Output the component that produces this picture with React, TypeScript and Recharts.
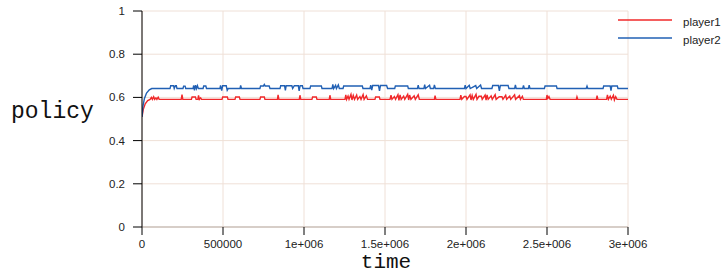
import { LineChart, Line, XAxis, YAxis, CartesianGrid, Legend } from 'recharts';

// [time, policy] samples
const player1Points: [number, number][] = [
  [0, 0.51], [8000, 0.545], [20000, 0.57], [35000, 0.585], [50000, 0.591],
  [58000, 0.6], [64000, 0.591], [72000, 0.603], [78000, 0.591], [86000, 0.598], [92000, 0.591], [100000, 0.601], [106000, 0.591],
  [242000, 0.591], [247000, 0.613], [252000, 0.591],
  [305000, 0.591], [309000, 0.602], [330000, 0.602], [334000, 0.591], [345000, 0.591], [349000, 0.609], [354000, 0.591], [362000, 0.598], [368000, 0.591],
  [494000, 0.591], [498000, 0.602], [527000, 0.602], [531000, 0.591],
  [574000, 0.591], [578000, 0.602], [601000, 0.602], [605000, 0.591],
  [728000, 0.591], [732000, 0.602], [755000, 0.602], [759000, 0.591],
  [836000, 0.591], [840000, 0.612], [845000, 0.591],
  [971000, 0.591], [975000, 0.61], [980000, 0.591],
  [1049000, 0.591], [1053000, 0.602], [1076000, 0.602], [1080000, 0.591],
  [1156000, 0.591], [1160000, 0.61], [1165000, 0.591],
  [1253000, 0.591], [1258000, 0.612], [1263000, 0.591], [1272000, 0.606], [1278000, 0.591], [1290000, 0.614], [1296000, 0.588],
  [1304000, 0.609], [1312000, 0.591], [1325000, 0.611], [1331000, 0.591], [1345000, 0.604], [1352000, 0.591], [1365000, 0.613],
  [1371000, 0.591], [1385000, 0.607], [1392000, 0.591],
  [1438000, 0.591], [1442000, 0.602], [1465000, 0.602], [1469000, 0.591],
  [1531000, 0.591], [1537000, 0.61], [1543000, 0.591], [1558000, 0.604], [1565000, 0.591], [1580000, 0.613], [1586000, 0.586],
  [1593000, 0.612], [1600000, 0.591], [1615000, 0.606], [1622000, 0.591], [1640000, 0.614], [1646000, 0.588], [1652000, 0.611],
  [1660000, 0.591], [1680000, 0.607], [1687000, 0.591], [1705000, 0.612], [1712000, 0.591],
  [1805000, 0.591], [1809000, 0.608], [1814000, 0.591],
  [1963000, 0.591], [1968000, 0.61], [1974000, 0.591], [1990000, 0.604], [2000000, 0.604], [2006000, 0.591], [2025000, 0.612],
  [2031000, 0.588], [2038000, 0.609], [2045000, 0.591], [2062000, 0.614], [2068000, 0.591], [2080000, 0.605], [2095000, 0.605],
  [2100000, 0.591], [2118000, 0.611], [2124000, 0.587], [2130000, 0.612], [2137000, 0.591], [2155000, 0.607], [2162000, 0.591],
  [2180000, 0.613], [2186000, 0.591], [2205000, 0.603], [2222000, 0.603], [2228000, 0.591], [2245000, 0.61], [2251000, 0.591],
  [2270000, 0.606], [2276000, 0.591], [2300000, 0.612], [2306000, 0.591], [2330000, 0.608], [2336000, 0.591], [2348000, 0.605], [2354000, 0.591],
  [2496000, 0.591], [2500000, 0.611], [2505000, 0.595], [2512000, 0.604], [2519000, 0.591],
  [2681000, 0.591], [2685000, 0.603], [2690000, 0.591],
  [2805000, 0.591], [2809000, 0.608], [2814000, 0.591],
  [2868000, 0.591], [2873000, 0.612], [2879000, 0.591], [2890000, 0.606], [2897000, 0.591], [2910000, 0.61], [2916000, 0.588],
  [2924000, 0.603], [2932000, 0.591],
  [3000000, 0.591],
];

const player2Points: [number, number][] = [
  [0, 0.51], [6000, 0.56], [15000, 0.595], [28000, 0.62], [45000, 0.635], [60000, 0.641],
  [173000, 0.641], [177000, 0.654], [195000, 0.654], [199000, 0.641], [206000, 0.654], [212000, 0.654], [216000, 0.641],
  [253000, 0.641], [257000, 0.652], [266000, 0.652], [270000, 0.641],
  [315000, 0.641], [319000, 0.655], [324000, 0.632], [330000, 0.657], [336000, 0.641], [342000, 0.654], [348000, 0.641],
  [377000, 0.641], [381000, 0.653], [394000, 0.653], [398000, 0.641],
  [481000, 0.641], [485000, 0.656], [492000, 0.631], [498000, 0.654], [520000, 0.654], [526000, 0.633], [532000, 0.641],
  [605000, 0.641], [609000, 0.655], [614000, 0.641],
  [728000, 0.641], [732000, 0.653], [750000, 0.653], [755000, 0.66], [760000, 0.653], [785000, 0.653], [790000, 0.641],
  [852000, 0.641], [856000, 0.654], [880000, 0.654], [885000, 0.632], [890000, 0.654], [925000, 0.654], [930000, 0.641],
  [940000, 0.654], [965000, 0.654], [970000, 0.63], [976000, 0.654], [990000, 0.654], [994000, 0.641],
  [1037000, 0.641], [1041000, 0.653], [1107000, 0.653], [1111000, 0.641],
  [1173000, 0.641], [1178000, 0.66], [1183000, 0.641], [1195000, 0.656], [1200000, 0.641], [1212000, 0.658], [1218000, 0.641],
  [1241000, 0.641], [1245000, 0.653], [1360000, 0.653], [1364000, 0.641],
  [1407000, 0.641], [1412000, 0.657], [1418000, 0.634], [1424000, 0.655], [1460000, 0.655], [1466000, 0.63], [1472000, 0.655],
  [1510000, 0.655], [1516000, 0.641],
  [1560000, 0.641], [1564000, 0.653], [1640000, 0.653], [1644000, 0.641],
  [1700000, 0.641], [1705000, 0.657], [1710000, 0.641], [1740000, 0.641], [1745000, 0.659], [1750000, 0.641], [1775000, 0.656],
  [1780000, 0.641], [1800000, 0.641], [1805000, 0.658], [1811000, 0.641],
  [1990000, 0.641], [1995000, 0.657], [2000000, 0.641], [2020000, 0.656], [2026000, 0.641], [2060000, 0.655], [2066000, 0.641],
  [2090000, 0.657], [2096000, 0.641],
  [2160000, 0.641], [2165000, 0.655], [2200000, 0.655], [2206000, 0.63], [2212000, 0.655], [2260000, 0.655], [2265000, 0.641],
  [2300000, 0.641], [2305000, 0.658], [2310000, 0.641], [2350000, 0.641], [2355000, 0.656], [2360000, 0.641], [2385000, 0.641],
  [2390000, 0.657], [2395000, 0.641],
  [2484000, 0.641], [2488000, 0.653], [2558000, 0.653], [2562000, 0.641],
  [2742000, 0.641], [2747000, 0.652], [2752000, 0.641],
  [2846000, 0.641], [2850000, 0.653], [2890000, 0.653], [2895000, 0.631], [2900000, 0.653], [2934000, 0.653], [2938000, 0.641],
  [3000000, 0.641],
];

const xTicks = [0, 500000, 1000000, 1500000, 2000000, 2500000, 3000000];
const xTickLabels = ['0', '500000', '1e+006', '1.5e+006', '2e+006', '2.5e+006', '3e+006'];
const yTicks = [0, 0.2, 0.4, 0.6, 0.8, 1];

const series = [
  { name: 'player1', color: '#f0282a', points: player1Points },
  { name: 'player2', color: '#2160b4', points: player2Points },
];

const tickFont = { fill: '#222', fontSize: 11.5, fontFamily: '"Liberation Sans", Arial, sans-serif' };
const monoFont = '"Courier New", "Liberation Mono", monospace';

function LegendBox() {
  return (
    <svg width={105} height={40} style={{ display: 'block' }}>
      {series.map((s, i) => (
        <g key={s.name}>
          <line x1={0} x2={54} y1={9 + i * 18} y2={9 + i * 18} stroke={s.color} strokeWidth={1.5} />
          <text x={65} y={15 + i * 18} style={tickFont} fill="#222">{s.name}</text>
        </g>
      ))}
    </svg>
  );
}

export default function App() {
  return (
    <div style={{ position: 'absolute', left: 0, top: 0, width: 723, height: 274, background: '#fff' }}>
      <LineChart width={723} height={274} margin={{ top: 11, right: 95, bottom: 0, left: 0 }}>
        <CartesianGrid stroke="#efe0d7" />
        <XAxis
          type="number"
          dataKey="t"
          domain={[0, 3000000]}
          ticks={xTicks}
          tickFormatter={(v: number) => xTickLabels[xTicks.indexOf(v)] ?? String(v)}
          height={47}
          axisLine={{ stroke: '#cdc3bc', strokeWidth: 1.5 }}
          tickLine={{ stroke: '#000' }}
          tickSize={8}
          tickMargin={4.5}
          tick={tickFont}
          allowDataOverflow
        />
        <YAxis
          type="number"
          domain={[0, 1]}
          ticks={yTicks}
          width={142}
          axisLine={{ stroke: '#000' }}
          tickLine={{ stroke: '#000' }}
          tickSize={9}
          tickMargin={8}
          tick={tickFont}
        />
        <Legend
          layout="vertical"
          align="center"
          verticalAlign="middle"
          wrapperStyle={{ top: 11, left: 618, width: 105, height: 40 }}
          content={() => <LegendBox />}
        />
        {series.map((s) => (
          <Line
            key={s.name}
            name={s.name}
            data={s.points.map(([t, v]) => ({ t, v }))}
            dataKey="v"
            type="linear"
            stroke={s.color}
            strokeWidth={1.4}
            dot={false}
            activeDot={false}
            isAnimationActive={false}
          />
        ))}
      </LineChart>
      <svg width={723} height={274} style={{ position: 'absolute', left: 0, top: 0, pointerEvents: 'none' }}>
        <text x={11} y={118} fontFamily={monoFont} fontSize={23} fill="#111">policy</text>
        <text x={386} y={268} textAnchor="middle" fontFamily={monoFont} fontSize={21} fill="#111">time</text>
      </svg>
    </div>
  );
}
